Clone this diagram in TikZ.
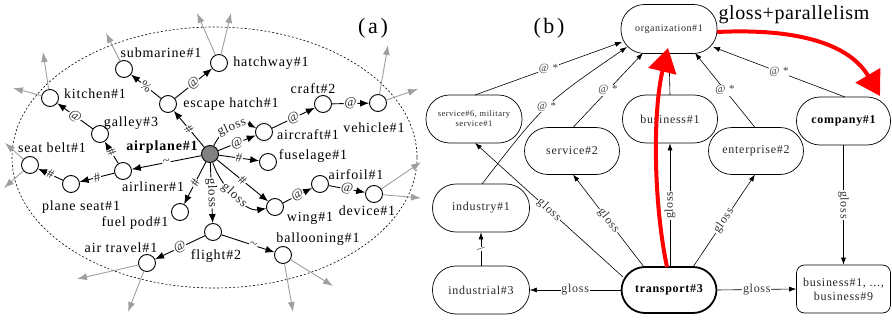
\documentclass[tikz,border=0pt]{standalone}
\usepackage{fontspec}
\setmainfont{Liberation Serif}
\newfontfamily\fLS{Liberation Serif}[LetterSpace=6]
\newfontfamily\fLSw{Liberation Serif}[LetterSpace=12]
\newfontfamily\fLSg{Liberation Serif}[LetterSpace=3]
\usetikzlibrary{arrows.meta}
\newcommand\FtA{\fLS\fontsize{14}{16}\selectfont}
\newcommand\FtE{\fLS\fontsize{13}{15}\selectfont}
\newcommand\FtB{\fLS\fontsize{12}{14}\selectfont}
\newcommand\FtM{\fLS\fontsize{10}{12}\selectfont}
\newcommand\FtR{\fLS\fontsize{11}{13}\selectfont}
\newcommand\FtX{\fLS\fontsize{8.5}{10}\selectfont}
\newcommand\FtP{\fLSw\fontsize{22}{24}\selectfont}
\newcommand\FtG{\fLSg\fontsize{20}{22}\selectfont}
\tikzset{
  cn/.style={circle, draw, fill=white, line width=0.9pt, minimum size=17pt, inner sep=0pt},
  tl/.style={font=\FtA, inner sep=0pt},
  el/.style={font=\FtE, fill=white, inner sep=0.8pt, sloped, text=black!85},
  arr/.style={line width=0.9pt, -{Latex[length=9pt,width=7pt]}},
  garr/.style={draw=gray!75, line width=0.9pt, -{Latex[length=10pt,width=7pt]}},
  rb/.style={draw, rounded corners=23.5pt, minimum width=96pt, minimum height=48pt, line width=0.7pt, font=\FtB, align=center, inner sep=0pt, text=black!85},
  rarr/.style={line width=0.6pt, -{Latex[length=7pt,width=5pt]}},
  rl/.style={font=\FtB, fill=white, inner sep=0.8pt, text=black!80},
  rs/.style={font=\FtR, fill=white, inner sep=0.8pt, text=black!75},
  redarr/.style={draw=red, line width=4pt, -{Triangle[length=24pt,width=28pt]}},
}
\begin{document}
\begin{tikzpicture}[x=1pt,y=-1pt]
\useasboundingbox (0,0) rectangle (892,321);
% ---------- panel (a) ----------
\draw[dashed, dash pattern=on 2pt off 2pt, line width=0.6pt] (214.5,157.5) ellipse [x radius=202.5, y radius=130.5];
\node[cn, fill=gray] (ap) at (210,154) {};
\node[cn] (sub) at (124,69) {};
\node[cn] (hat) at (219,63) {};
\node[cn] (kit) at (50,98) {};
\node[cn] (esc) at (168,104) {};
\node[cn] (cra) at (323,104) {};
\node[cn] (veh) at (378,103) {};
\node[cn] (gal) at (100,134) {};
\node[cn] (acf) at (264,132) {};
\node[cn] (fus) at (268,162) {};
\node[cn] (sbl) at (30,165) {};
\node[cn] (aln) at (123,171) {};
\node[cn] (pst) at (71,184) {};
\node[cn] (afl) at (320,184) {};
\node[cn] (dev) at (374,194) {};
\node[cn] (wng) at (275,207) {};
\node[cn] (fpd) at (180,212) {};
\node[cn] (flt) at (213,232) {};
\node[cn] (atr) at (147,263) {};
\node[cn] (bal) at (283,255) {};
% labels
\node[tl] (tsub) at (161,53) {submarine\#1};
\node[tl] (that) at (271,63) {hatchway\#1};
\node[font=\FtP, inner sep=0pt] (tA) at (373,28) {(a)};
\node[tl] (tkit) at (95,94) {kitchen\#1};
\node[tl] (tesc) at (231,104) {escape hatch\#1};
\node[tl] (tcra) at (313,89) {craft\#2};
\node[tl] (tveh) at (374,128) {vehicle\#1};
\node[tl] (tgal) at (131,123) {galley\#3};
\node[tl] (tacf) at (308,135) {aircraft\#1};
\node[tl, font=\FtA\bfseries] (tap) at (162,147) {airplane\#1};
\node[tl] (tsbl) at (52,148) {seat belt\#1};
\node[tl] (tfus) at (313,156) {fuselage\#1};
\node[tl] (taln) at (153,187) {airliner\#1};
\node[tl] (tpst) at (81,207) {plane seat\#1};
\node[tl] (tafl) at (356,175) {airfoil\#1};
\node[tl] (tdev) at (367,211) {device\#1};
\node[tl] (twng) at (310,218) {wing\#1};
\node[tl] (tfpd) at (135,223) {fuel pod\#1};
\node[tl] (tbal) at (318,239) {ballooning\#1};
\node[tl] (tatr) at (121,248) {air travel\#1};
\node[tl] (tflt) at (216,256) {flight\#2};
% gray outgoing arrows
\coordinate (o1) at (106,33);
\coordinate (o2) at (197,13);
\coordinate (o3) at (231,13);
\coordinate (o4) at (43,52);
\coordinate (o5) at (13,88);
\coordinate (o6) at (5,143);
\coordinate (o7) at (4,188);
\coordinate (o8) at (388,45);
\coordinate (o9) at (418,89);
\coordinate (o10) at (421,162);
\coordinate (o11) at (421,198);
\coordinate (o12) at (77,279);
\coordinate (o13) at (128,312);
\coordinate (o14) at (293,312);
\coordinate (o15) at (333,286);
\draw[garr] (sub) -- (o1);
\draw[garr] (hat) -- (o2);
\draw[garr] (hat) -- (o3);
\draw[garr] (kit) -- (o4);
\draw[garr] (kit) -- (o5);
\draw[garr] (sbl) -- (o6);
\draw[garr] (sbl) -- (o7);
\draw[garr] (veh) -- (o8);
\draw[garr] (veh) -- (o9);
\draw[garr] (dev) -- (o10);
\draw[garr] (dev) -- (o11);
\draw[garr] (atr) -- (o12);
\draw[garr] (atr) -- (o13);
\draw[garr] (bal) -- (o14);
\draw[garr] (bal) -- (o15);
% black edges
\draw[arr] (esc) -- node[el]{\%} (sub);
\draw[arr] (esc) -- node[el]{@} (hat);
\draw[arr] (ap) -- node[el]{\#} (esc);
\draw[arr] (gal) -- node[el]{@} (kit);
\draw[arr] (aln) -- node[el]{\#} (gal);
\draw[arr] (ap) -- node[el]{\textasciitilde} (aln);
\draw[arr] (aln) -- node[el]{\#} (pst);
\draw[arr] (pst) -- node[el]{\#} (sbl);
\draw[arr] (ap) .. controls (222,128) and (240,120) .. node[el]{gloss} (acf);
\draw[arr] (ap) -- node[el]{@} (acf);
\draw[arr] (acf) -- node[el]{@} (cra);
\draw[arr] (cra) -- node[el]{@} (veh);
\draw[arr] (ap) -- node[el]{\#} (fus);
\draw[arr] (ap) -- node[el]{\#} (wng);
\draw[arr] (ap) .. controls (220,185) and (245,212) .. node[el]{gloss} (wng);
\draw[arr] (wng) -- node[el]{@} (afl);
\draw[arr] (afl) -- node[el]{@} (dev);
\draw[arr] (ap) -- node[el]{\#} (fpd);
\draw[arr] (ap) -- node[el]{gloss} (flt);
\draw[arr] (flt) -- node[el]{@} (atr);
\draw[arr] (flt) -- node[el,pos=.6]{\textasciitilde} (bal);
% ---------- panel (b) ----------
\node[font=\FtP, inner sep=0pt] (tB) at (549,28) {(b)};
\node[font=\FtG, inner sep=0pt] (tGP) at (794,15) {gloss+parallelism};
\node[rb, minimum height=49pt, font=\FtM] (org) at (669,29) {organization\#1};
\node[rb, font=\FtX] (s6) at (474,119) {service\#6, military\\service\#1};
\node[rb, minimum width=95pt] (biz) at (670,119) {business\#1};
\node[rb, minimum width=94pt, font=\FtB\bfseries, text=black] (comp) at (843.5,121) {company\#1};
\node[rb, minimum width=95pt, minimum height=47pt] (s2) at (572,151) {service\#2};
\node[rb, minimum width=95pt, minimum height=47pt] (ent) at (756,151) {enterprise\#2};
\node[rb, minimum width=97pt] (ind) at (481,208) {industry\#1};
\node[rb, minimum width=97pt] (indl) at (481,290) {industrial\#3};
\node[rb, minimum width=95pt, minimum height=46pt, line width=1.8pt, font=\FtB\bfseries, text=black] (trans) at (669,290) {transport\#3};
\node[rb, minimum width=94pt, rounded corners=8pt] (bizall) at (843.5,289) {business\#1, ...,\\business\#9};
% edges (b)
\draw[rarr] ([shift={(1,-24)}]s6.center) -- node[rs]{@ *} ([shift={(-47,13)}]org.center);
\draw[rarr] ([shift={(1,-24)}]ind.center) .. controls (544,104) .. node[rs]{@ *} ([shift={(-42,18)}]org.center);
\draw[rarr] ([shift={(1,-23.5)}]s2.center) -- node[rs]{@ *} ([shift={(-26,24)}]org.center);
\draw[rarr] ([shift={(0,-24)}]biz.center) -- node[rs, fill=none, xshift=3pt]{*} ([shift={(0,24.5)}]org.center);
\draw[rarr] ([shift={(-1,-23.5)}]ent.center) -- node[rs]{@ *} ([shift={(26,24)}]org.center);
\draw[rarr] ([shift={(1.5,-24)}]comp.center) -- node[rs]{@ *} ([shift={(44,18)}]org.center);
\draw[rarr] (comp.south) -- node[rl, rotate=-90]{gloss} (bizall.north);
\draw[rarr] ([shift={(1,-23)}]trans.center) -- node[rl, sloped]{gloss} (biz.south);
\draw[rarr] ([shift={(-25,-23)}]trans.center) -- node[rl, sloped]{gloss} ([shift={(1,23.5)}]s2.center);
\draw[rarr] ([shift={(24,-23)}]trans.center) -- node[rl, sloped]{gloss} ([shift={(-1,23.5)}]ent.center);
\draw[rarr] ([shift={(-46,-13)}]trans.center) -- node[rl, sloped]{gloss} ([shift={(1,24)}]s6.center);
\draw[rarr] (trans.west) -- node[rl]{gloss} (indl.east);
\draw[rarr] (trans.east) -- node[rl]{gloss} (bizall.west);
\draw[rarr] (indl.north) -- node[rl, rotate=90]{\textbackslash} (ind.south);
% red arrows
\draw[redarr] ([shift={(-2,-23)}]trans.center) .. controls (653,200) and (653,110) .. ([shift={(-1,19)}]org.center);
\draw[redarr] ([shift={(48,3)}]org.center) .. controls (800,28) and (850,45) .. ([shift={(36.5,-25)}]comp.center);
\end{tikzpicture}
\end{document}
